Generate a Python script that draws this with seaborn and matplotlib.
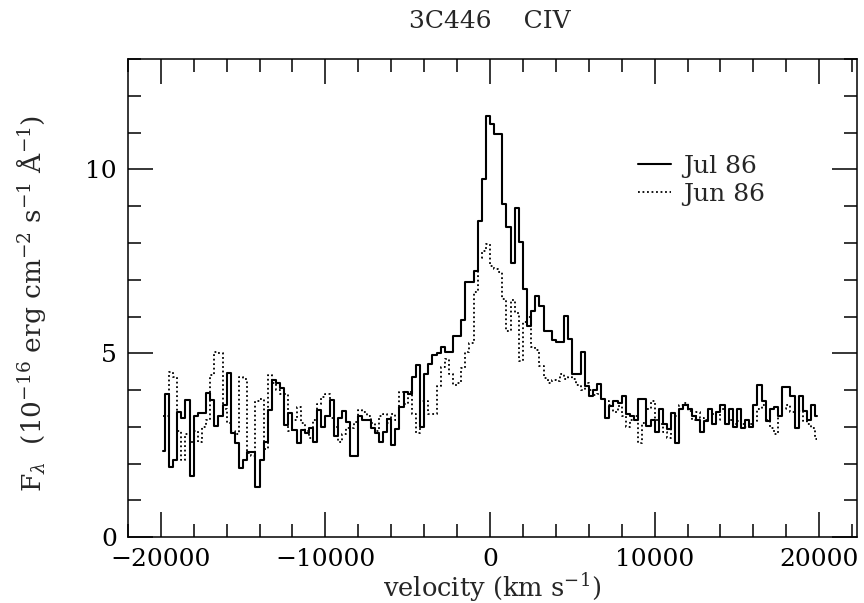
import numpy as np
import pandas as pd
import seaborn as sns
import matplotlib.pyplot as plt
from matplotlib.ticker import MultipleLocator

# velocity bin centres (km/s)
velocity = [
    -19875, -19625, -19375, -19125, -18875, -18625, -18375, -18125, -17875, -17625,
    -17375, -17125, -16875, -16625, -16375, -16125, -15875, -15625, -15375, -15125,
    -14875, -14625, -14375, -14125, -13875, -13625, -13375, -13125, -12875, -12625,
    -12375, -12125, -11875, -11625, -11375, -11125, -10875, -10625, -10375, -10125,
    -9875, -9625, -9375, -9125, -8875, -8625, -8375, -8125, -7875, -7625,
    -7375, -7125, -6875, -6625, -6375, -6125, -5875, -5625, -5375, -5125,
    -4875, -4625, -4375, -4125, -3875, -3625, -3375, -3125, -2875, -2625,
    -2375, -2125, -1875, -1625, -1375, -1125, -875, -625, -375, -125,
    125, 375, 625, 875, 1125, 1375, 1625, 1875, 2125, 2375,
    2625, 2875, 3125, 3375, 3625, 3875, 4125, 4375, 4625, 4875,
    5125, 5375, 5625, 5875, 6125, 6375, 6625, 6875, 7125, 7375,
    7625, 7875, 8125, 8375, 8625, 8875, 9125, 9375, 9625, 9875,
    10125, 10375, 10625, 10875, 11125, 11375, 11625, 11875, 12125, 12375,
    12625, 12875, 13125, 13375, 13625, 13875, 14125, 14375, 14625, 14875,
    15125, 15375, 15625, 15875, 16125, 16375, 16625, 16875, 17125, 17375,
    17625, 17875, 18125, 18375, 18625, 18875, 19125, 19375, 19625, 19875,
]

# F_lambda, 1e-16 erg cm-2 s-1 A-1
flux_jul = [
    2.35, 3.9, 1.92, 2.1, 3.4, 3.23, 3.73, 1.66, 3.3, 3.37,
    3.37, 3.91, 3.73, 3.02, 3.29, 3.6, 4.46, 2.83, 2.55, 1.87,
    2.1, 2.33, 2.33, 1.36, 2.1, 2.6, 3.46, 4.27, 4.2, 4.05,
    3.05, 3.37, 2.92, 2.55, 2.92, 2.83, 2.96, 2.6, 3.46, 3.0,
    3.3, 3.73, 2.74, 3.23, 3.42, 3.14, 2.2, 2.2, 3.29, 3.2,
    3.2, 2.96, 2.83, 2.6, 2.86, 3.22, 2.5, 2.95, 3.54, 3.95,
    3.9, 4.35, 4.67, 3.0, 4.45, 4.72, 4.95, 5.0, 5.17, 5.04,
    5.04, 5.47, 5.47, 5.9, 6.95, 6.95, 7.23, 8.59, 9.74, 11.46,
    11.24, 10.96, 10.96, 9.06, 8.43, 7.46, 8.95, 8.02, 6.75, 5.74,
    6.14, 6.57, 6.28, 5.6, 5.6, 5.36, 5.3, 5.3, 6.01, 5.38,
    4.43, 4.43, 5.03, 4.11, 3.84, 4.0, 4.16, 3.75, 3.25, 3.57,
    3.7, 3.65, 3.84, 3.34, 3.3, 3.2, 3.75, 3.75, 3.02, 3.2,
    2.85, 3.48, 3.07, 2.94, 3.39, 2.57, 3.48, 3.6, 3.5, 3.3,
    3.2, 2.85, 3.15, 3.48, 3.07, 3.4, 3.6, 3.07, 3.48, 3.0,
    3.5, 2.98, 3.2, 3.0, 3.6, 4.13, 3.7, 3.15, 3.48, 3.55,
    3.3, 4.08, 4.08, 3.84, 2.98, 3.84, 3.43, 3.2, 3.6, 3.3,
]

flux_jun = [
    3.3, 3.3, 4.5, 4.35, 2.9, 2.1, 2.8, 2.6, 2.9, 2.6,
    3.0, 3.2, 4.4, 5.05, 5.0, 3.5, 3.1, 2.9, 2.8, 4.37,
    4.3, 2.3, 2.2, 3.7, 3.76, 2.4, 4.4, 4.2, 4.0, 3.9,
    3.9, 2.9, 3.2, 3.55, 3.1, 2.9, 2.7, 3.2, 3.63, 3.8,
    3.9, 3.23, 3.0, 2.6, 2.8, 2.96, 2.96, 3.14, 3.45, 3.4,
    3.3, 3.1, 2.9, 3.3, 3.35, 3.1, 3.35, 3.2, 3.95, 3.63,
    3.95, 3.35, 2.83, 3.7, 3.7, 3.35, 3.35, 4.1, 4.64, 4.86,
    4.45, 4.14, 4.2, 4.6, 5.05, 5.28, 6.68, 7.6, 7.78, 7.96,
    7.37, 7.28, 7.2, 6.48, 5.6, 6.45, 6.1, 4.8, 5.84, 6.0,
    5.16, 5.1, 4.66, 4.34, 4.2, 4.28, 4.25, 4.43, 4.3, 4.35,
    4.3, 4.15, 4.0, 4.2, 4.0, 3.87, 3.9, 3.75, 3.7, 3.6,
    3.4, 3.57, 3.3, 3.0, 3.2, 3.3, 2.57, 3.12, 3.48, 3.7,
    3.2, 3.07, 2.85, 2.7, 3.3, 3.3, 3.6, 3.65, 3.43, 3.2,
    3.4, 3.25, 3.2, 3.48, 3.35, 3.2, 3.48, 3.07, 3.2, 3.07,
    3.15, 3.07, 3.0, 3.07, 3.15, 3.48, 3.6, 3.2, 2.98, 2.8,
    3.35, 3.5, 3.6, 3.4, 3.2, 3.43, 3.15, 3.07, 2.98, 2.66,
]

sns.set_style("ticks")
plt.rcParams["font.family"] = ["DejaVu Serif"]
plt.rcParams["mathtext.fontset"] = "dejavuserif"
plt.rcParams["font.size"] = 18

fig = plt.figure(figsize=(8.64, 6.03), dpi=100)
ax = fig.add_axes([0.148, 0.109, 0.844, 0.793])

sns.lineplot(x=velocity, y=flux_jul, ax=ax, color="black", lw=1.5,
             drawstyle="steps-mid", label="Jul 86")
sns.lineplot(x=velocity, y=flux_jun, ax=ax, color="black", lw=1.3,
             drawstyle="steps-mid", label="Jun 86")
ax.lines[1].set_dashes((1, 1.5))

ax.set_xlim(-22000, 22300)
ax.set_ylim(0, 13)
ax.xaxis.set_major_locator(MultipleLocator(10000))
ax.xaxis.set_minor_locator(MultipleLocator(2000))
ax.yaxis.set_major_locator(MultipleLocator(5))
ax.yaxis.set_minor_locator(MultipleLocator(1))
ax.tick_params(which="both", direction="in", top=True, right=True,
               width=1.1, colors="black")
ax.tick_params(which="major", length=18, pad=8, labelsize=18)
ax.tick_params(which="minor", length=9.5)
for s in ax.spines.values():
    s.set_linewidth(1.1)
    s.set_color("black")

ax.set_xlabel(r"velocity (km s$^{-1}$)", fontsize=18.5)
ax.xaxis.set_label_coords(0.5, -0.07)
ax.set_ylabel(r"F$_\lambda$  (10$^{-16}$ erg cm$^{-2}$ s$^{-1}$ Å$^{-1}$)",
              fontsize=19)
ax.yaxis.set_label_coords(-0.11, 0.49)

fig.text(0.567, 1 - 22 / 603, "3C446    CIV", ha="center", va="center",
         fontsize=18)

ax.legend(loc="upper left", bbox_to_anchor=(0.70, 0.80), frameon=False,
          fontsize=18, handlelength=1.3, handletextpad=0.5,
          labelspacing=0.2, borderaxespad=0, borderpad=0)

fig.savefig("out.png", dpi=100)
